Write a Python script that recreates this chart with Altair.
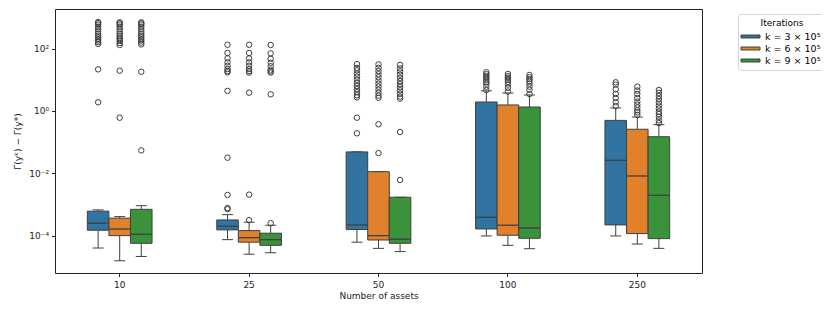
import altair as alt
import pandas as pd

groups = ["10", "25", "50", "100", "250"]
hues = ["k = 3 × 10⁵", "k = 6 × 10⁵", "k = 9 × 10⁵"]
colors = ["#3274a1", "#e1812c", "#3a923a"]

# per (group, hue), group-major order
whisker_low = [4.1e-5, 1.6e-5, 2.2e-5,
               7.6e-5, 2.6e-5, 2.9e-5,
               6.3e-5, 4.0e-5, 3.15e-5,
               1.0e-4, 5.0e-5, 3.9e-5,
               1.0e-4, 5.5e-5, 4.0e-5]
q1 = [1.52e-4, 1.02e-4, 5.8e-5,
      1.56e-4, 6.3e-5, 5.0e-5,
      1.6e-4, 7.4e-5, 5.8e-5,
      1.67e-4, 1.05e-4, 8.4e-5,
      2.25e-4, 1.19e-4, 8.2e-5]
median = [2.55e-4, 1.67e-4, 1.13e-4,
          2.04e-4, 8.8e-5, 7.6e-5,
          2.25e-4, 1.02e-4, 7.8e-5,
          3.96e-4, 2.2e-4, 1.8e-4,
          2.64e-2, 8.3e-3, 2.0e-3]
q3 = [6.2e-4, 3.7e-4, 7.1e-4,
      3.25e-4, 1.48e-4, 1.22e-4,
      4.9e-2, 1.14e-2, 1.73e-3,
      1.94, 1.56, 1.34,
      0.50, 0.26, 0.15]
whisker_high = [6.8e-4, 4.15e-4, 9.3e-4,
                4.8e-4, 2.75e-4, 2.2e-4,
                4.9e-2, 1.14e-2, 1.73e-3,
                4.4, 3.77, 3.25,
                1.25, 0.64, 0.365]
outliers = [
    [140, 160, 180, 200, 230, 260, 300, 350, 420, 500, 580, 650, 700, 21.5, 1.9],
    [130, 150, 175, 200, 225, 260, 300, 350, 420, 500, 580, 640, 690, 19.5, 0.61],
    [135, 155, 180, 200, 230, 260, 300, 350, 420, 500, 580, 640, 690, 18, 0.055],
    [132, 72, 48.5, 36, 28, 22, 19, 17.3, 4.4, 0.032, 2.05e-3, 7.8e-4, 7.2e-4],
    [132, 72, 48, 36, 28, 22, 19, 17, 3.86, 2.1e-3, 3.2e-4],
    [130, 70, 47, 35, 27, 21, 18.5, 17, 3.42, 2.55e-4],
    [31.6, 24, 20, 15.8, 12.6, 10, 7.9, 6.3, 5, 4, 3.2, 2.75, 0.61, 0.193],
    [31, 24, 19, 15, 12, 9.5, 7.5, 6, 4.8, 3.8, 3.1, 2.65, 0.375, 0.045],
    [30, 23, 18.5, 14.5, 11.5, 9, 7.2, 5.8, 4.6, 3.6, 2.9, 2.5, 0.213, 6.2e-3],
    [17.4, 15, 13, 11.5, 10, 8.5, 7.5, 6, 4.7],
    [15.3, 13, 11.5, 10, 8.5, 7, 5.5, 4.2],
    [14.2, 12, 10.5, 9, 7.5, 6, 4.8, 3.5],
    [8.3, 7, 5, 3.5, 2.6, 1.9, 1.45],
    [6, 4.5, 3.5, 2.6, 2, 1.6, 1.3, 1.05, 0.9, 0.75],
    [4.7, 3.8, 3, 2.4, 1.9, 1.5, 1.2, 0.95, 0.8, 0.65, 0.5, 0.41],
]

y_tick_values = [1e-4, 1e-2, 1, 100]

rows = []
out_rows = []
i = 0
for g in groups:
    for h in hues:
        rows.append({"group": g, "hue": h, "wlo": whisker_low[i], "q1": q1[i],
                     "med": median[i], "q3": q3[i], "whi": whisker_high[i]})
        for v in outliers[i]:
            out_rows.append({"group": g, "hue": h, "value": v})
        i += 1
stats = pd.DataFrame(rows)
outs = pd.DataFrame(out_rows)

line = "#3f3f3f"
xscale = alt.Scale(domain=groups, paddingInner=0.5, paddingOuter=0.25)
offscale = alt.Scale(domain=hues, paddingInner=0, paddingOuter=0)
yscale = alt.Scale(type="log", domain=[6.5e-6, 1840], nice=False)

xenc = alt.X("group:N", scale=xscale, sort=groups,
             axis=alt.Axis(title="Number of assets", labelAngle=0, tickSize=3.5,
                           bandPosition=0.5, labelAlign="center", labelBaseline="top",
                           domain=False, grid=False, labelPadding=4, titlePadding=2))
xoff = alt.XOffset("hue:N", scale=offscale, sort=hues)
yaxis = alt.Axis(title="Γ(yᵏ) − Γ(y*)", values=y_tick_values, grid=False, domain=False,
                 tickSize=3.5, labelPadding=3, titlePadding=6,
                 labelExpr="datum.value >= 50 ? '10²' : datum.value >= 0.5 ? '10⁰' : datum.value >= 0.005 ? '10⁻²' : '10⁻⁴'")

base = alt.Chart(stats)

boxes = base.mark_bar(stroke=line, strokeWidth=1, opacity=1).encode(
    x=xenc, xOffset=xoff,
    y=alt.Y("q1:Q", scale=yscale, axis=yaxis),
    y2="q3:Q",
    color=alt.Color("hue:N", sort=hues, scale=alt.Scale(domain=hues, range=colors),
                    legend=alt.Legend(title="Iterations", orient="none", legendX=683, legendY=5,
                                      symbolType="M-1.41,-0.22H1.41V0.22H-1.41Z", symbolSize=182,
                                      symbolStrokeColor=line, symbolStrokeWidth=1,
                                      symbolOpacity=1,
                                      labelFontSize=9.5, titleFontSize=9, titleFontWeight="normal",
                                      titleAnchor="middle", rowPadding=0, padding=5,
                                      strokeColor="#d5d5d5", fillColor="white", cornerRadius=3,
                                      labelOffset=7, titlePadding=1))
)

wlow = base.mark_rule(color=line, strokeWidth=1).encode(
    x=alt.X("group:N", scale=xscale, sort=groups), xOffset=xoff,
    y=alt.Y("wlo:Q", scale=yscale), y2="q1:Q")
whigh = base.mark_rule(color=line, strokeWidth=1).encode(
    x=alt.X("group:N", scale=xscale, sort=groups), xOffset=xoff,
    y=alt.Y("q3:Q", scale=yscale), y2="whi:Q")
cap_lo = base.mark_tick(color=line, size=11, thickness=1, opacity=1).encode(
    x=alt.X("group:N", scale=xscale, sort=groups), xOffset=xoff,
    y=alt.Y("wlo:Q", scale=yscale))
cap_hi = base.mark_tick(color=line, size=11, thickness=1, opacity=1).encode(
    x=alt.X("group:N", scale=xscale, sort=groups), xOffset=xoff,
    y=alt.Y("whi:Q", scale=yscale))
meds = base.mark_tick(color=line, size=21, thickness=1.3, opacity=1).encode(
    x=alt.X("group:N", scale=xscale, sort=groups), xOffset=xoff,
    y=alt.Y("med:Q", scale=yscale))

pts = alt.Chart(outs).mark_point(shape="circle", filled=False, color=line, size=30,
                                 strokeWidth=1, opacity=1).encode(
    x=alt.X("group:N", scale=xscale, sort=groups), xOffset=xoff,
    y=alt.Y("value:Q", scale=yscale))

chart = alt.layer(wlow, whigh, cap_lo, cap_hi, boxes, meds, pts).properties(
    width=647, height=264,
    autosize=alt.AutoSizeParams(type="none"),
    padding={"left": 47, "top": 1, "right": 120, "bottom": 30},
).configure(font="DejaVu Sans").configure_view(
    stroke="#222222", strokeWidth=1
).configure_axis(
    labelFontSize=9, titleFontSize=9, titleFontWeight="normal", labelColor="#222", titleColor="#222",
    tickColor="#222"
)

chart.save("out.html", embed_options={"renderer": "svg", "actions": False})
